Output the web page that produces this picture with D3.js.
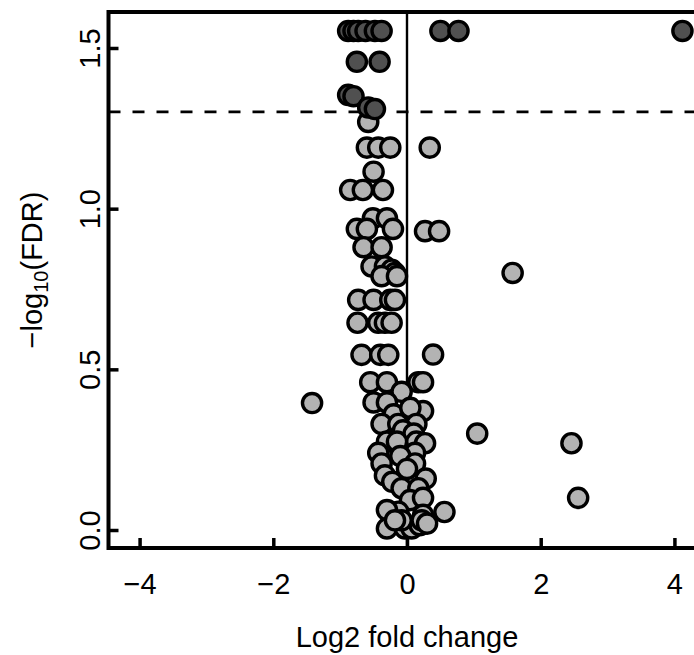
<!DOCTYPE html>
<html>
<head>
<meta charset="utf-8">
<script src="https://cdn.jsdelivr.net/npm/d3@7"></script>
<style>
  body { margin: 0; background: #fff; }
  text { font-family: "Liberation Sans", Arial, sans-serif; fill: #000; }
</style>
</head>
<body>
<div id="chart"></div>
<script>
// volcano plot: log2 fold change vs -log10(FDR)
var log2fc = [
  -0.88, -0.80, -0.73, -0.62, -0.48, -0.38, 0.50, 0.77, 4.12,
  -0.75, -0.41,
  -0.88, -0.80, -0.58, -0.48,
  -0.58,
  -0.60, -0.43, -0.25, 0.34,
  -0.50,
  -0.85, -0.66, -0.36,
  -0.51, -0.30,
  -0.75, -0.60, -0.21, 0.27, 0.48,
  -0.65, -0.38,
  -0.53, -0.33, -0.23, -0.18, -0.38, -0.15,
  1.58,
  -0.73, -0.50, -0.25, -0.18,
  -0.74, -0.43, -0.33, -0.23,
  -0.68, -0.40, -0.28, 0.39,
  -0.55, -0.30, 0.17, 0.24, -0.08,
  -0.50, -0.30, 0.24, -1.42, -0.20, 0.05,
  -0.38, -0.13, 0.14, -0.06, 0.10,
  -0.30, -0.15, 0.14, 0.27, 1.05, 2.46,
  -0.43, 0.12, -0.10,
  -0.38, 0.12, 0.00,
  -0.33, -0.22, 0.28,
  -0.08, 0.17,
  0.045, 0.24,
  -0.13, -0.30, 0.24, 0.56,
  -0.30, -0.03, 0.07, 0.19, -0.08, 0.22, -0.18, 0.30
  , 2.56
];
var negLogFdr = [
  1.553, 1.553, 1.553, 1.553, 1.553, 1.553, 1.553, 1.553, 1.553,
  1.457, 1.457,
  1.354, 1.35, 1.315, 1.31,
  1.27,
  1.19, 1.19, 1.19, 1.19,
  1.115,
  1.058, 1.058, 1.058,
  0.97, 0.97,
  0.937, 0.937, 0.937, 0.93, 0.93,
  0.88, 0.88,
  0.82, 0.82, 0.81, 0.80, 0.79, 0.79,
  0.80,
  0.716, 0.716, 0.716, 0.716,
  0.645, 0.645, 0.645, 0.645,
  0.545, 0.545, 0.545, 0.546,
  0.46, 0.46, 0.46, 0.46, 0.43,
  0.397, 0.397, 0.37, 0.395, 0.36, 0.38,
  0.33, 0.33, 0.33, 0.31, 0.30,
  0.275, 0.275, 0.275, 0.27, 0.30, 0.27,
  0.24, 0.24, 0.23,
  0.207, 0.207, 0.19,
  0.17, 0.15, 0.16,
  0.13, 0.13,
  0.093, 0.10,
  0.057, 0.062, 0.047, 0.056,
  0.005, 0.005, 0.005, 0.015, 0.03, 0.03, 0.03, 0.02
  , 0.10
];
var xTicks = [-4, -2, 0, 2, 4];
var yTicks = [0.0, 0.5, 1.0, 1.5];
var fdrCut = -Math.log10(0.05);

var svgWidth = 694;
var svgHeight = 655;

var svg = d3.select("#chart")
  .append("svg")
  .attr("width", svgWidth)
  .attr("height", svgHeight);

var plotLeft = 108.5, plotRight = 705.5, plotTop = 12, plotBottom = 548;

var x = d3.scaleLinear().domain([-4.465, 4.465]).range([plotLeft, plotRight]);
var y = d3.scaleLinear().domain([-0.056, 1.612]).range([plotBottom, plotTop]);

var points = log2fc.map((d, i) => ({ fc: d, p: negLogFdr[i], sig: negLogFdr[i] > fdrCut }));

// reference lines
svg.append("line")
  .attr("x1", x(0)).attr("x2", x(0))
  .attr("y1", plotTop).attr("y2", plotBottom)
  .attr("stroke", "#000").attr("stroke-width", 2.4);

svg.append("line")
  .attr("x1", plotLeft).attr("x2", plotRight)
  .attr("y1", y(fdrCut)).attr("y2", y(fdrCut))
  .attr("stroke", "#000").attr("stroke-width", 2.8)
  .attr("stroke-dasharray", "12,12");

// points, non significant first
var ordered = points.filter(d => !d.sig).concat(points.filter(d => d.sig));
svg.append("g").selectAll("circle")
  .data(ordered)
  .enter()
  .append("circle")
  .attr("cx", d => x(d.fc))
  .attr("cy", d => y(d.p))
  .attr("r", 9.6)
  .attr("fill", d => d.sig ? "#505050" : "#b3b3b3")
  .attr("stroke", "#000")
  .attr("stroke-width", 3.4);

// axes with inward ticks
var xAxis = svg.append("g")
  .attr("transform", `translate(0, ${plotBottom})`)
  .call(d3.axisBottom(x).tickValues(xTicks).tickSizeInner(-10).tickSizeOuter(0).tickPadding(25)
    .tickFormat(d => d < 0 ? "\u2212" + Math.abs(d) : d));

var yAxis = svg.append("g")
  .attr("transform", `translate(${plotLeft}, 0)`)
  .call(d3.axisLeft(y).tickValues(yTicks).tickSizeInner(-10).tickSizeOuter(0)
    .tickFormat(d3.format(".1f")));

[xAxis, yAxis].forEach(g => {
  g.select(".domain").remove();
  g.selectAll("line").attr("stroke", "#000").attr("stroke-width", 3.5);
  g.selectAll("text").style("font-size", "29px").attr("fill", "#000");
});

yAxis.selectAll("text")
  .attr("x", null)
  .attr("dy", null)
  .attr("text-anchor", "middle")
  .attr("transform", "translate(-9, 0) rotate(-90)");

// frame
svg.append("path")
  .attr("d", `M${plotRight},${plotTop}H${plotLeft}V${plotBottom}H${plotRight}`)
  .attr("fill", "none")
  .attr("stroke", "#000")
  .attr("stroke-width", 4);

// axis titles
svg.append("text")
  .attr("x", x(0))
  .attr("y", 647)
  .attr("text-anchor", "middle")
  .style("font-size", "29px")
  .text("Log2 fold change");

var yTitle = svg.append("text")
  .attr("transform", "translate(42, 270) rotate(-90)")
  .attr("text-anchor", "middle")
  .style("font-size", "29px");
yTitle.append("tspan").text("\u2212log");
yTitle.append("tspan").attr("dy", 6).style("font-size", "20px").text("10");
yTitle.append("tspan").attr("dy", -6).text("(FDR)");
</script>
</body>
</html>
